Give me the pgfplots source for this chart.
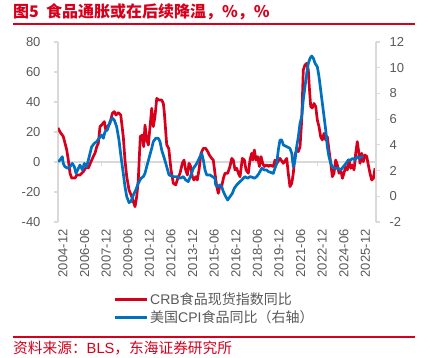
\documentclass[border=0pt]{standalone}
\usepackage{pgfplots}
\pgfplotsset{compat=1.18}
\usepackage{pgfplotstable}
\usepackage{fontspec}
\setmainfont{Liberation Sans}
\newfontfamily\cjk{Noto Sans CJK SC}
\definecolor{cred}{RGB}{214,0,28}
\definecolor{cblue}{RGB}{0,112,192}
\definecolor{tgray}{RGB}{89,89,89}
\definecolor{agray}{RGB}{217,217,217}

\pgfplotstableread{
x y
0 22.7
1.7 20
4.4 17
5.8 12.7
7.3 8
8.6 1.3
10 -7.5
11.4 -10.7
14.2 -10.7
15.6 -8.7
18.3 -8.7
21.1 -6.4
23.9 -3
25.3 -4
28.1 1.3
29.4 3.6
30.8 5.8
32.3 10.2
33.6 12.4
35 23.6
36.4 24.7
38.6 26.9
39.8 21.3
41.4 23.6
43.3 25.8
45.3 32.4
46.9 33.6
48.3 31.3
50.3 32.9
52.3 31.3
54.4 16.9
55.8 1.3
57.3 -9.8
59.2 -18.7
61.4 -23
62.8 -26.4
64.2 -29.8
65.6 -23
66.9 -12
67.8 3.6
68.6 17
70.3 18
71.4 10.2
72.5 24.7
73.9 14.7
75.3 11.3
76.7 23.6
78.1 35.8
79.4 23.6
80.8 30.2
82.3 42.4
84.2 41.3
86.4 41.3
87.8 39
88.6 33
90.6 11.5
92.3 9
94.2 -5.3
96.1 -14.2
98.1 -15.3
99.8 -10.9
101.7 -7.5
103.6 -0.9
105 1.3
106.4 -5.3
107.8 -8.7
109.2 -0.9
110.6 -3
111.9 -9.8
113.3 -12
114.8 -9.8
116.1 -12
117.5 -5.3
119.2 5.8
121.1 9.1
123.1 9.1
124.8 6.9
126.1 4.7
128.1 2.4
129.4 1.3
130.8 -7.5
132.3 -16.4
133.6 -20.9
135 -15.3
136.4 -16.4
137.8 -10.9
139.2 -7.5
141.4 -7.5
143.3 -3
144.8 2.4
146.1 1.3
147.5 -5.3
148.9 -4.2
150.3 -7.5
151.7 -9.8
153.6 2.4
155.3 1.3
156.7 -5.3
158.6 -7.5
160 1.3
161.4 5.8
162.3 1.3
163.6 8
165 1.3
166.4 3.6
167.8 -3
169.2 3.6
170.6 -0.9
171.9 -3
173.9 -2
175.8 -3
176.7 -2
179.4 -3
180.8 1.3
182.3 -1
185 2.4
187.8 -0.9
190.6 2.4
191.9 -7.5
193.3 -16.4
194.8 -14.2
196.1 -7.5
197.5 4.7
198.9 8
200.3 7
201.7 10.2
203.1 28
204.4 61.3
205.8 64.7
207.3 65.8
208.6 61.3
209.4 50.2
210.6 36.9
211.9 36
213.3 39
214.8 36.9
216.1 28
217.5 23.6
218.9 16.9
220.3 14.7
221.7 19.1
223.1 14.7
224.4 16.9
225.8 8
227.3 -0.9
228.6 -9.8
230 -7.5
231.4 1.3
232.8 -2
234.2 -7.5
235.6 -5.3
237 -10.9
238.3 -7.5
239.8 -3
241.1 -5.3
242.5 1.3
243.9 -4.2
245.3 -2
246.7 -5.3
248.1 5.8
249.4 13.6
250.8 5.8
251.7 -0.9
253.1 5.8
254.4 0.2
255.8 4.7
257.3 3.6
258.6 -2
260 -7.5
261.4 -12
262.8 -11
264.2 -4.2
}\redtab

\pgfplotstableread{
x y
0 2.69
1.7 2.82
3.6 3.08
4.4 2.56
5.8 2.3
8.1 2.18
10 2.3
11.9 2.56
13.6 2.3
15 1.78
16.4 2.05
18.3 2.43
20.3 2.05
21.9 2.56
23.9 2.3
25.3 2.82
26.7 3.34
28.1 3.86
30.3 4.12
32.3 4.25
34.2 4.51
36.4 4.77
37.8 4.51
39.2 5.03
41.1 5.16
43.3 5.8
45.3 6.07
46.9 5.93
48.9 5.41
50.8 4.38
52.5 3.08
54.4 1.78
55.8 0.75
57.3 -0.03
59.2 -0.49
60.8 -0.41
62.8 0.1
64.8 0.49
66.9 1.01
69.2 1.4
71.1 1.53
72.5 1.78
73.9 2.3
75.8 2.95
78.1 3.73
79.4 4.25
81.4 4.51
83.6 4.51
85 4.25
86.4 3.6
88.6 2.95
90.6 2.3
92.5 1.66
94.2 1.6
96.1 1.53
98.9 1.53
101.7 1.4
104.4 1.53
106.4 1.27
108.6 1.14
110.8 1.66
112.8 2.18
114.8 2.43
116.4 2.69
118.3 3.08
119.8 3.34
121.1 2.82
122.5 2.05
123.9 1.66
126.7 1.66
128.6 1.53
130.8 1.4
131.4 0.88
133.1 0.75
135 0.88
136.4 0.75
137.8 0.36
139.8 -0.03
141.4 -0.29
143.3 -0.03
145.3 0.23
146.9 0.62
148.9 0.88
150.8 1.06
153.1 1.27
155.8 1.53
158.1 1.4
160 1.53
161.9 1.48
163.6 1.4
165.6 1.53
167.5 1.78
169.8 2.18
171.9 2.05
173.9 2.05
175.3 1.92
177.5 1.85
179.4 1.78
180.8 2.18
182.3 2.56
183.6 3.6
185 4.38
186.4 4.38
187.8 3.99
190.6 3.86
193.3 3.73
194.8 3.34
196.1 2.3
197.5 2.82
198.9 3.86
200.3 4.64
201.7 5.68
203.1 6.19
204.4 7.49
205.8 8.52
207.3 9.56
208.6 10.34
210 10.73
211.4 10.91
212.8 10.73
214.2 10.34
216.1 10.08
217.5 9.3
218.9 8.27
220.3 7.23
221.7 6.19
223.1 5.16
224.4 3.86
225.8 3.08
227.3 2.56
228.6 2.3
230.8 2.18
233.6 2.18
235.6 2.05
237.8 2.3
240 2.56
241.9 2.82
243.9 2.82
245.6 2.95
247.5 2.82
249.4 3.08
251.1 2.95
253.1 3.08
254.4 3.08
}\bluetab

\begin{document}
\begin{tikzpicture}[x=1pt,y=1pt]
\useasboundingbox (0,0) rectangle (433,358);
\node[anchor=west, inner sep=0, text=cred, font=\cjk\bfseries\fontsize{16}{18}\selectfont] at (13,346) {图5\hspace{0.45em}食品通胀或在后续降温，\%，\%};
\draw[cred, line width=2pt] (13,334) -- (415,334);
\draw[cred, line width=1.5pt] (13,21) -- (415,21);
\node[anchor=west, inner sep=0, text=cred, font=\fontsize{14.7}{16}\selectfont] at (13,10) {{\cjk 资料来源：}BLS{\cjk ，东海证券研究所}};

\begin{axis}[
  at={(58pt,136pt)}, anchor=south west, scale only axis, width=318pt, height=180pt,
  xmin=0, xmax=265, ymin=-40, ymax=80,
  ytick={-40,-20,...,80},
  xtick={0,18,...,252},
  xticklabels={2004-12,2006-06,2007-12,2009-06,2010-12,2012-06,2013-12,2015-06,2016-12,2018-06,2019-12,2021-06,2022-12,2024-06,2025-12},
  axis y line*=left, axis x line*=bottom,
  axis line style={-},
  x axis line style={draw=none},
  y axis line style={agray, line width=1.2pt},
  xtick style={draw=none},
  ytick style={agray, line width=1.2pt},
  tick align=outside,
  major tick length=4pt,
  tick label style={text=tgray, font=\fontsize{13}{15}\selectfont},
  /pgf/number format/assume math mode=true,
  xticklabel style={rotate=90, anchor=east, yshift=-5pt},
  yticklabel style={xshift=-10pt},
  extra y ticks={0}, extra y tick labels={},
  extra y tick style={grid=major, major grid style={agray, line width=1.5pt}, major tick length=0pt},
  legend style={at={(0.174,-0.383)}, anchor=north west, draw=none, fill=none, inner sep=0pt,
    font=\fontsize{14}{16}\selectfont, text=tgray, row sep=0.5pt},
  legend cell align=left,
  legend image code/.code={\draw[#1] (0pt,0pt) -- (32pt,0pt);},
]
\pgfplotsinvokeforeach{36,72,...,252}{\draw[agray, line width=1.2pt] (axis cs:#1,0) -- ++(0pt,-4pt);}
\addplot[cred, line width=2.7pt, line join=round] table {\redtab};
\addlegendimage{cblue, line width=2.7pt}
\legend{CRB{\cjk 食品现货指数同比}, {\cjk 美国}CPI{\cjk 食品同比（右轴）}}
\end{axis}

\begin{axis}[
  at={(58pt,136pt)}, anchor=south west, scale only axis, width=318pt, height=180pt,
  xmin=0, xmax=265, ymin=-2, ymax=12,
  ytick={-2,0,...,12},
  axis y line*=right, axis x line=none,
  axis line style={-},
  y axis line style={agray, line width=1.2pt},
  ytick style={agray, line width=1.2pt},
  tick align=outside,
  major tick length=4pt,
  tick label style={text=tgray, font=\fontsize{13}{15}\selectfont},
  yticklabel style={xshift=6pt},
  /pgf/number format/assume math mode=true,
]
\addplot[cblue, line width=2.7pt, line join=round] table {\bluetab};
\end{axis}
\end{tikzpicture}
\end{document}
